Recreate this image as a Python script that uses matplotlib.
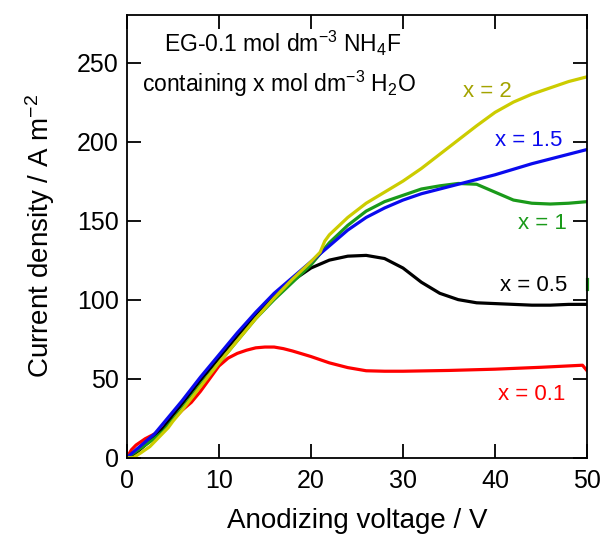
import matplotlib
matplotlib.use("Agg")
import matplotlib.pyplot as plt

plt.rcParams["font.family"] = ["Liberation Sans", "DejaVu Sans"]
plt.rcParams["mathtext.fontset"] = "custom"
plt.rcParams["mathtext.rm"] = "Liberation Sans"
plt.rcParams["mathtext.default"] = "regular"

# current density (A m^-2) vs anodizing voltage (V) for each water content x
v_red = [0, 0.5, 1, 2, 3, 4, 5, 6, 7, 8, 9, 10, 11, 12, 13, 14, 15, 16, 17, 18, 20, 22, 24, 26, 28, 30, 35, 40, 45, 49.5, 50]
i_red = [0, 5, 8, 12, 15, 19, 24, 30, 35, 42, 50, 58, 63, 66, 68, 69.5, 70, 70, 69, 67.5, 64, 60, 57, 55, 54.7, 54.7, 55.2, 56, 57.2, 58.5, 55]

v_black = [0, 1, 2, 3, 4, 5, 6, 8, 10, 12, 14, 16, 18, 20, 22, 24, 26, 28, 30, 32, 34, 36, 38, 40, 42, 44, 46, 48, 50]
i_black = [0, 3, 8, 13, 19, 27, 34, 49, 63, 77, 90, 102, 112, 120, 125, 127.5, 128, 126, 120, 111, 104, 100, 98, 97.5, 97, 96.5, 96.5, 97, 97]

v_green = [0, 1, 2, 3, 4, 5, 6, 8, 10, 12, 14, 16, 18, 20, 22, 24, 26, 28, 30, 32, 34, 36, 38, 40, 42, 44, 46, 48, 50]
i_green = [0, 4, 8, 12, 17, 24, 31, 46, 60, 74, 88, 100, 111, 122, 136, 147, 156, 162, 166, 170, 172, 173.5, 173, 168, 163, 161, 160.5, 161, 162]
v_green_tail = [50, 50]
i_green_tail = [107, 113]

v_blue = [0, 1, 2, 3, 4, 5, 6, 8, 10, 12, 14, 16, 18, 20, 22, 24, 26, 28, 30, 32, 34, 36, 38, 40, 42, 44, 46, 48, 50]
i_blue = [0, 5, 10, 15, 22, 29, 36, 51, 65, 79, 92, 104, 114, 124, 134, 144, 152, 158, 163, 167, 170, 173, 176, 179, 182.5, 186, 189, 192, 195]

v_yellow = [0, 0.7, 1.5, 2.5, 3.5, 4.5, 5, 6, 8, 10, 12, 14, 16, 18, 20, 21, 21.5, 22, 24, 26, 28, 30, 32, 34, 36, 38, 40, 42, 44, 46, 48, 50]
i_yellow = [0, 0, 3, 7, 13, 19, 23, 30, 45, 60, 74, 88, 101, 113, 124, 130, 137, 141, 152, 161, 168, 175, 183, 192, 201, 210, 218.5, 225, 230, 234, 238, 241]

fig = plt.figure(figsize=(6.04, 5.41), dpi=100)
ax = fig.add_axes([0.210, 0.154, 0.762, 0.818])

lw = 2.3
ax.plot(v_red, i_red, color="#ff0000", lw=lw)
ax.plot(v_black, i_black, color="#000000", lw=lw)
ax.plot(v_green, i_green, color="#1a9a1a", lw=lw)
ax.plot(v_green_tail, i_green_tail, color="#1a9a1a", lw=lw, clip_on=False)
ax.plot(v_blue, i_blue, color="#0a0aee", lw=lw)
ax.plot(v_yellow, i_yellow, color="#cccc00", lw=lw)

ax.set_xlim(0, 50)
ax.set_ylim(0, 280)
ax.set_xticks([0, 10, 20, 30, 40, 50])
ax.set_yticks([0, 50, 100, 150, 200, 250])
ax.tick_params(direction="in", length=10, width=1.3, labelsize=18,
               top=True, right=True)
ax.tick_params(axis="x", pad=8)
ax.tick_params(axis="y", pad=6)
for s in ax.spines.values():
    s.set_linewidth(1.3)

ax.set_xlabel("Anodizing voltage / V", fontsize=20, labelpad=11)
ax.set_ylabel("Current density / A m$^{-2}$", fontsize=20, labelpad=14)

ax.text(0.08, 0.935, "EG-0.1 mol dm$^{-3}$ NH$_4$F", transform=ax.transAxes,
        fontsize=16.5, ha="left", va="center")
ax.text(0.033, 0.845, "containing x mol dm$^{-3}$ H$_2$O", transform=ax.transAxes,
        fontsize=16.5, ha="left", va="center")

lab = dict(fontsize=16, ha="right", va="center")
ax.text(41.8, 232, "x = 2", color="#a3a300", **lab)
ax.text(47.3, 201, "x = 1.5", color="#0a0aee", **lab)
ax.text(47.8, 148, "x = 1", color="#1a9a1a", **lab)
ax.text(47.8, 109, "x = 0.5", color="#000000", **lab)
ax.text(47.6, 40, "x = 0.1", color="#ff0000", **lab)

fig.savefig("out.png", dpi=100)
